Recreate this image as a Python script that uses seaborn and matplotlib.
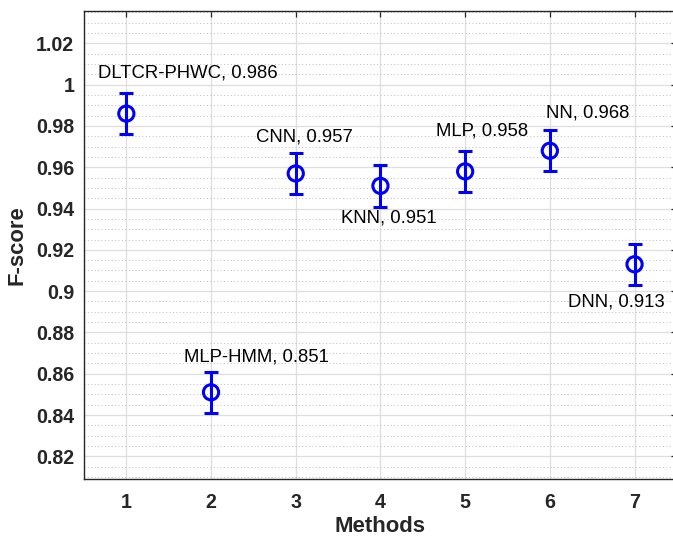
import numpy as np
import pandas as pd
import matplotlib
matplotlib.use("Agg")
import matplotlib.pyplot as plt
import matplotlib.ticker as mticker
import seaborn as sns

# data
method_idx = [1, 2, 3, 4, 5, 6, 7]
method_names = ["DLTCR-PHWC", "MLP-HMM", "CNN", "KNN", "MLP", "NN", "DNN"]
fscore = [0.986, 0.851, 0.957, 0.951, 0.958, 0.968, 0.913]
fscore_err = [0.01, 0.01, 0.01, 0.01, 0.01, 0.01, 0.01]

df = pd.DataFrame({"idx": method_idx, "name": method_names, "f": fscore, "err": fscore_err})

sns.set_style("whitegrid")
plt.rcParams["font.family"] = ["Liberation Sans", "DejaVu Sans"]

f = plt.figure(figsize=(6.73, 5.39), dpi=100)
ax = f.add_axes([0.1248, 0.1113, 0.881, 0.8683])

blue = (0, 0, 1)
ax.errorbar(df.idx, df.f, yerr=df.err, fmt="none", ecolor=blue, elinewidth=2.2,
            capsize=4.8, capthick=2.2, zorder=3)
sns.scatterplot(data=df, x="idx", y="f", marker="o", s=120, facecolor="none",
                edgecolor=blue, linewidth=2.2, ax=ax, zorder=4, legend=False)

# label offsets (dx, dy) relative to each point
offsets = [(-0.33, 0.0197), (-0.32, 0.0169), (-0.47, 0.0177), (-0.46, -0.0158),
           (-0.34, 0.0197), (-0.04, 0.0184), (-0.78, -0.0182)]
for (dx, dy), row in zip(offsets, df.itertuples()):
    ax.text(row.idx + dx, row.f + dy, f"{row.name}, {row.f:.3f}", ha="left", va="center",
            fontsize=13.3, color="black")

ax.set_xlim(0.5, 7.5)
ax.set_ylim(0.809, 1.0357)
ax.set_xticks(method_idx)
ax.set_yticks(np.arange(0.82, 1.021, 0.02))
ax.yaxis.set_major_formatter(mticker.FuncFormatter(lambda v, p: f"{v:g}"))
ax.yaxis.set_minor_locator(mticker.MultipleLocator(0.005))

ax.grid(which="major", color="#dedede", linestyle="-", linewidth=0.9)
ax.grid(which="minor", axis="y", color="#bdbdbd", linestyle=(0, (1, 2.5)), linewidth=0.7)
ax.set_axisbelow(True)

for s in ax.spines.values():
    s.set_color("#262626")
    s.set_linewidth(1.0)
ax.tick_params(which="major", direction="in", length=4, width=0.9, color="#262626",
               top=True, right=True, labelsize=14.1, labelcolor="#262626")
ax.tick_params(axis="y", which="major", pad=7)
ax.tick_params(axis="x", which="major", pad=10)
ax.tick_params(which="minor", length=0)
for lbl in ax.get_xticklabels() + ax.get_yticklabels():
    lbl.set_fontweight("bold")

ax.set_xlabel("Methods", fontsize=15.9, fontweight="bold", color="#262626", labelpad=3)
ax.set_ylabel("F-score", fontsize=15.8, fontweight="bold", color="#262626", labelpad=6)

plt.savefig("out.png", dpi=100)
